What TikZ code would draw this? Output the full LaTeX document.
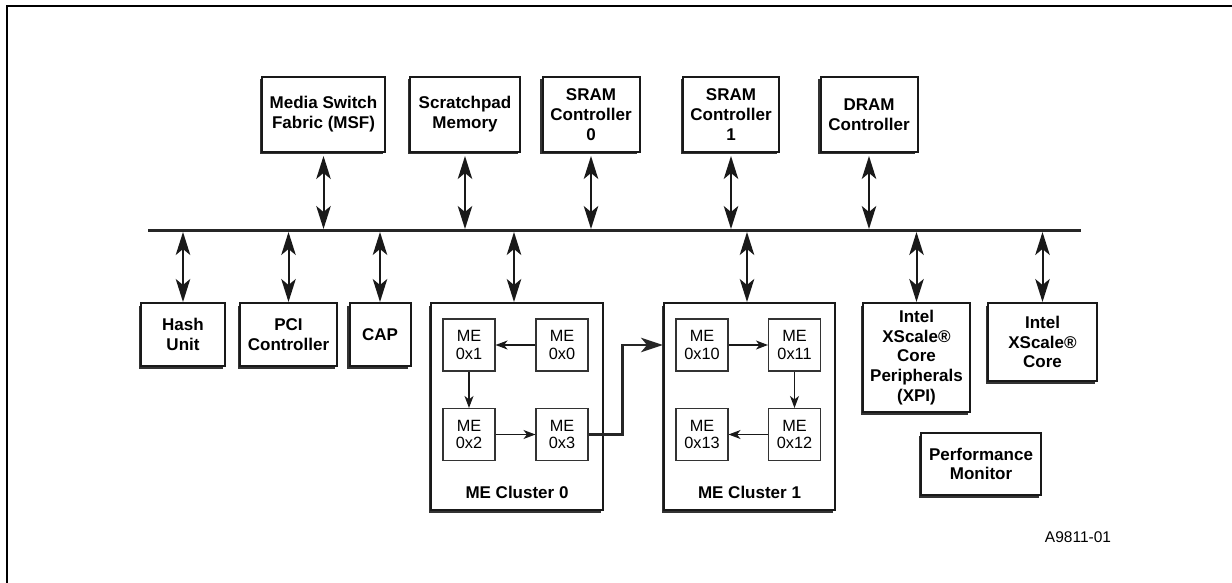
\documentclass[tikz,border=0pt]{standalone}
\usepackage{fontspec}
\setmainfont{Liberation Sans}
\usetikzlibrary{arrows.meta,shadows,calc}
\begin{document}
\begin{tikzpicture}[x=1pt,y=-1pt,
  box/.style={draw=black!90, line width=2pt, fill=white, align=center, inner sep=0pt,
    font=\fontsize{17}{19.8}\selectfont\bfseries,
    drop shadow={shadow xshift=-2.5pt, shadow yshift=-2.5pt, fill=black!80, opacity=1}},
  mebox/.style={draw=black!80, line width=1.1pt, fill=white, align=center, inner sep=0pt,
    minimum size=52pt, font=\fontsize{16.3}{17.8}\selectfont},
  lbl/.style={font=\fontsize{17}{19.8}\selectfont\bfseries, inner sep=0pt},
  bus/.style={line width=3pt, draw=black!85},
  bigtip/.style={Stealth[length=23pt,width=14.5pt,inset=6pt]},
  busarr/.style={line width=2pt, draw=black!90, {Stealth[length=23pt,width=14.5pt,inset=6pt]}-{Stealth[length=23pt,width=14.5pt,inset=6pt]}},
  mearr/.style={line width=1.1pt, draw=black!90, -{Stealth[length=12pt,width=9pt,inset=3.5pt]}},
  link/.style={line width=2.4pt, draw=black!85, -{Stealth[length=22pt,width=14.5pt,inset=6pt]}},
  frame/.style={line width=2pt, draw=black}
]
\useasboundingbox (0,0) rectangle (1232,583);

% outer frame
\coordinate (fBL) at (7,583);
\coordinate (fTL) at (7,6);
\coordinate (fTR) at (1232,6);
\draw[frame] (fBL) -- (fTL) -- (fTR);

% bus
\coordinate (busL) at (148,230.5);
\coordinate (busR) at (1081,230.5);
\coordinate (busT) at (0,229);
\coordinate (busB) at (0,232);
\draw[bus] (busL) -- (busR);

% top boxes
\node[box, minimum width=123pt, minimum height=75pt] (msf) at (323.5,114.5) {Media Switch\\Fabric (MSF)};
\node[box, minimum width=110pt, minimum height=75pt] (scr) at (465,114.5) {Scratchpad\\Memory};
\node[box, minimum width=97pt, minimum height=75pt] (sr0) at (591,114.5) {SRAM\\Controller\\0};
\node[box, minimum width=96pt, minimum height=75pt] (sr1) at (731,114.5) {SRAM\\Controller\\1};
\node[box, minimum width=97pt, minimum height=75pt] (dram) at (869,114.5) {DRAM\\Controller};

% bottom boxes
\node[box, minimum width=84pt, minimum height=63pt] (hash) at (183,334.5) {Hash\\Unit};
\node[box, minimum width=97pt, minimum height=63pt] (pci) at (288.5,334.5) {PCI\\Controller};
\node[box, minimum width=61pt, minimum height=63pt] (cap) at (380,334.5) {CAP};
\node[box, minimum width=172pt, minimum height=207pt] (cl0) at (517,406.5) {};
\node[box, minimum width=171pt, minimum height=207pt] (cl1) at (749.5,406.5) {};
\node[box, minimum width=107pt, minimum height=109pt] (xpi) at (916.5,357.5) {Intel\\XScale®\\Core\\Peripherals\\(XPI)};
\node[box, minimum width=109pt, minimum height=78pt] (core) at (1042.5,342) {Intel\\XScale®\\Core};
\node[box, minimum width=120pt, minimum height=62pt] (perf) at (981,464) {Performance\\Monitor};

\node[lbl] (cl0lbl) at (517,492) {ME Cluster 0};
\node[lbl] (cl1lbl) at (749.5,492) {ME Cluster 1};

% ME boxes cluster 0
\node[mebox] (me1) at (469,345) {ME\\0x1};
\node[mebox] (me0) at (562,345) {ME\\0x0};
\node[mebox] (me2) at (469,434.5) {ME\\0x2};
\node[mebox] (me3) at (562,434.5) {ME\\0x3};
% ME boxes cluster 1
\node[mebox] (me10) at (702,345) {ME\\0x10};
\node[mebox] (me11) at (794.5,345) {ME\\0x11};
\node[mebox] (me13) at (702,434.5) {ME\\0x13};
\node[mebox] (me12) at (794.5,434.5) {ME\\0x12};

% ME arrows
\draw[mearr] (me0) -- (me1);
\draw[mearr] (me1) -- (me2);
\draw[mearr] (me2) -- (me3);
\draw[mearr] (me10) -- (me11);
\draw[mearr] (me11) -- (me12);
\draw[mearr] (me12) -- (me13);
\draw[link] (me3.east) -- ++(34,0) |- (me10 -| cl1.west);

% bus arrows, top
\foreach \n in {msf,scr,sr0,sr1,dram}
  \draw[busarr, shorten <=3pt] (\n.south) -- (\n.south |- busT);
% bus arrows, bottom
\foreach \n in {hash,pci,cap,xpi,core}
  \draw[busarr] (\n.north |- busB) -- (\n.north);
\draw[busarr] ($(cl0.north |- busB)+(-3,0)$) -- ($(cl0.north)+(-3,0)$);
\draw[busarr] ($(cl1.north |- busB)+(-2.5,0)$) -- ($(cl1.north)+(-2.5,0)$);

% figure id
\node[font=\fontsize{15.5}{18}\selectfont, inner sep=0pt] (figid) at (1078,537) {A9811-01};
\end{tikzpicture}
\end{document}
